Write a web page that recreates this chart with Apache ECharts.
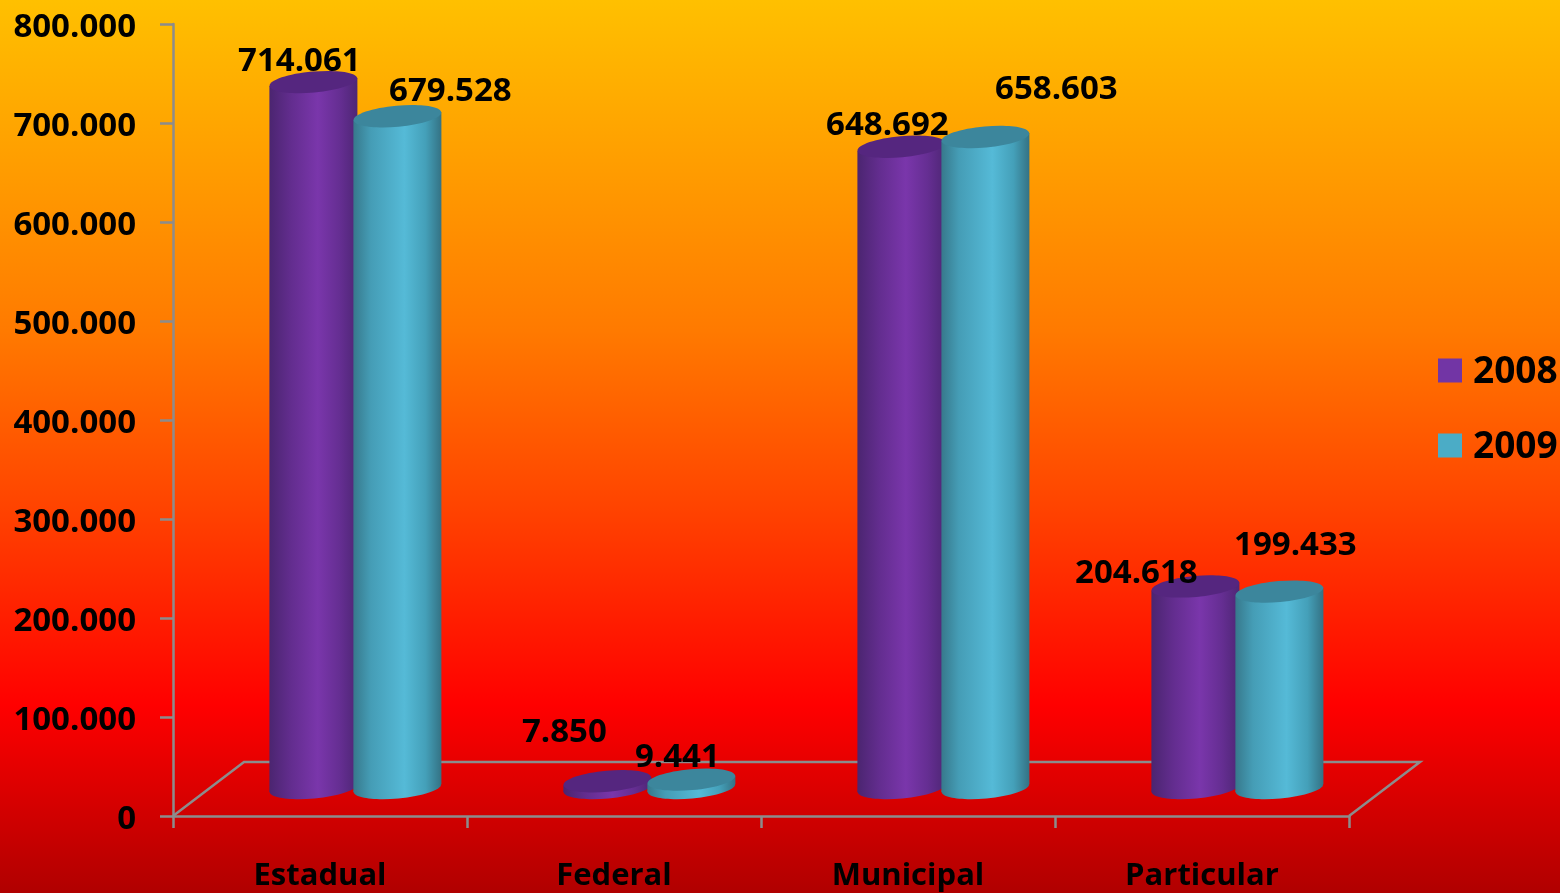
<!DOCTYPE html>
<html>
<head>
<meta charset="utf-8">
<style>html,body{margin:0;padding:0;background:#000}#c{width:1560px;height:893px}</style>
<script src="https://cdn.jsdelivr.net/npm/echarts@6/dist/echarts.min.js"></script>
</head>
<body>
<div id="c"></div>
<script>
var categories = ['Estadual', 'Federal', 'Municipal', 'Particular'];
var values2008 = [714061, 7850, 648692, 204618];
var values2009 = [679528, 9441, 658603, 199433];
var labelOffsets2008 = [[-14, -20], [-43, -49], [-14, -21], [-59, -13]];
var labelOffsets2009 = [[53, -25], [-14, -22], [71, -47], [16, -46]];
var yTicks = { min: 0, max: 800000, interval: 100000 };

var FONT = '"Open Sans", "Noto Sans", sans-serif';
var GRAY = '#8c8c8c';
var DEPTH_X = 71, DEPTH_Y = 54, BASE_LIFT = 28, RX = 44, RY = 10.5, TILT = 0.09;

function fmt(v) { return String(v).replace(/\B(?=(\d{3})+(?!\d))/g, '.'); }
function hGrad(stops) {
  return { type: 'linear', x: 0, y: 0, x2: 1, y2: 0,
    colorStops: stops.map(function (s) { return { offset: s[0], color: s[1] }; }) };
}

function cylinder(shift, stops, capColor, offsets) {
  return function (params, api) {
    var i = api.value(0), v = api.value(1);
    var band = api.size([1, 0])[0];
    var p = api.coord([i, v]);
    var p0 = api.coord([i, 0]);
    var cx = p[0] + band * shift;
    var top = p[1] - BASE_LIFT + 1, base = p0[1] - BASE_LIFT;
    var dy = RX * Math.sin(TILT);
    var fill = hGrad(stops);
    var off = offsets[i];
    return {
      type: 'group',
      children: [
        { type: 'ellipse', x: cx, y: base, rotation: TILT,
          shape: { cx: 0, cy: 0, rx: RX, ry: RY }, style: { fill: fill }, z2: 1 },
        { type: 'polygon',
          shape: { points: [[cx - RX, top + dy], [cx + RX, top - dy], [cx + RX, base - dy], [cx - RX, base + dy]] },
          style: { fill: fill }, z2: 2 },
        { type: 'ellipse', x: cx, y: top, rotation: TILT,
          shape: { cx: 0, cy: 0, rx: RX, ry: RY }, style: { fill: capColor }, z2: 3 },
        { type: 'text', x: cx + off[0], y: top + off[1], z2: 100,
          style: { text: fmt(v), fill: '#000', font: '700 33px ' + FONT, align: 'center', verticalAlign: 'middle' } }
      ]
    };
  };
}

function floor(params) {
  var g = params.coordSys;
  var bottom = g.y + g.height, right = g.x + g.width;
  return {
    type: 'polyline',
    shape: { points: [[g.x, bottom], [g.x + DEPTH_X, bottom - DEPTH_Y], [right + DEPTH_X, bottom - DEPTH_Y], [right, bottom]] },
    style: { stroke: GRAY, fill: null, lineWidth: 2.5 }, silent: true
  };
}

function pairs(arr) { return arr.map(function (v, i) { return [i, v]; }); }

var chart = echarts.init(document.getElementById('c'));
chart.setOption({
  animation: false,
  backgroundColor: {
    type: 'linear', x: 0, y: 0, x2: 0, y2: 1,
    colorStops: [
      { offset: 0, color: '#ffc000' },
      { offset: 0.37, color: '#ff7a00' },
      { offset: 0.58, color: '#ff4000' },
      { offset: 0.79, color: '#ff0000' },
      { offset: 1, color: '#b00000' }
    ]
  },
  grid: { left: 173, top: 24, right: 211, bottom: 77 },
  legend: {
    left: 1438, top: 354, orient: 'vertical', icon: 'rect', padding: 0,
    itemWidth: 24, itemHeight: 24, itemGap: 38,
    data: ['2008', '2009'],
    formatter: function (name) { return '{v|' + name + '}'; },
    textStyle: {
      color: '#000', fontFamily: FONT, fontWeight: 700, fontSize: 37, padding: [0, 0, 0, 6],
      rich: { v: { color: '#000', fontFamily: FONT, fontWeight: 700, fontSize: 37, lineHeight: 41, verticalAlign: 'bottom' } }
    }
  },
  xAxis: {
    type: 'category', data: categories, boundaryGap: true,
    axisLine: { show: true, lineStyle: { color: GRAY, width: 2.5 } },
    axisTick: { show: true, length: 12, lineStyle: { color: GRAY, width: 2.5 } },
    axisLabel: { color: '#000', fontFamily: FONT, fontWeight: 700, fontSize: 31, margin: 45, interval: 0 },
    splitLine: { show: false }
  },
  yAxis: {
    type: 'value', min: yTicks.min, max: yTicks.max, interval: yTicks.interval,
    axisLine: { show: true, lineStyle: { color: GRAY, width: 2.5 } },
    axisTick: { show: true, length: 13, lineStyle: { color: GRAY, width: 2.5 } },
    axisLabel: {
      color: '#000', fontFamily: FONT, fontWeight: 700, fontSize: 33, margin: 37,
      formatter: function (v) { return '{v|' + fmt(v) + '}'; },
      rich: { v: { color: '#000', fontFamily: FONT, fontWeight: 700, fontSize: 33, lineHeight: 40, verticalAlign: 'bottom' } }
    },
    splitLine: { show: false }
  },
  series: [
    { type: 'custom', name: 'floor', data: [[0, 0]], encode: { x: 0, y: 1 }, renderItem: floor, silent: true, z: 1 },
    { type: 'custom', name: '2008', data: pairs(values2008), encode: { x: 0, y: 1 }, itemStyle: { color: '#7235a5' }, z: 2,
      renderItem: cylinder(-6.6 / 294, [[0, '#4b2570'], [0.25, '#632d8f'], [0.55, '#7a36ab'], [0.8, '#652e92'], [1, '#4e2675']], '#55267f', labelOffsets2008) },
    { type: 'custom', name: '2009', data: pairs(values2009), encode: { x: 0, y: 1 }, itemStyle: { color: '#4bacc6' }, z: 3,
      renderItem: cylinder(77.4 / 294, [[0, '#37798c'], [0.2, '#459db6'], [0.58, '#55bad7'], [0.82, '#44a0b9'], [1, '#347284']], '#3c869c', labelOffsets2009) }
  ]
});
</script>
</body>
</html>
